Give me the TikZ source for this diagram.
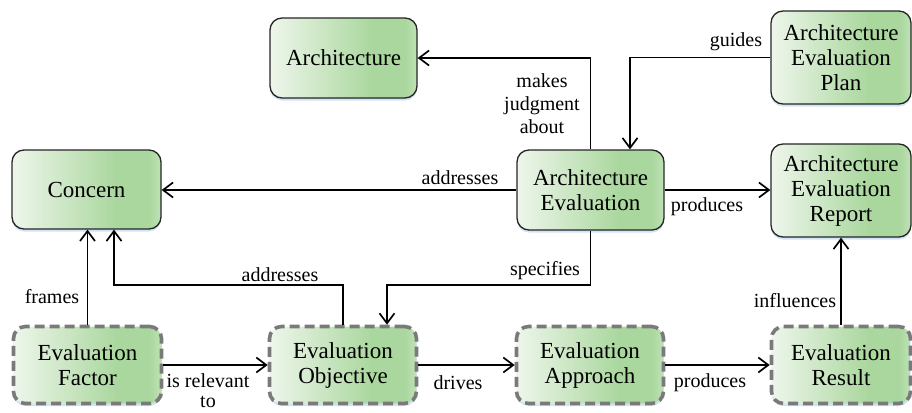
\documentclass[tikz,border=0pt]{standalone}
\usepackage{fontspec}
\setmainfont{Liberation Serif}
\newfontfamily\camfont{Liberation Serif}
\usetikzlibrary{arrows.meta,shadows,calc}
\definecolor{gA}{RGB}{238,246,235}
\definecolor{gB}{RGB}{170,215,158}
\definecolor{gC}{RGB}{192,226,183}
\definecolor{dashgray}{RGB}{122,122,122}
\definecolor{glow}{RGB}{190,215,240}
\pgfdeclarehorizontalshading{boxgreen}{100bp}{color(0bp)=(gA); color(25bp)=(gA); color(60bp)=(gB); color(71bp)=(gB); color(75bp)=(gC); color(100bp)=(gC)}
\tikzset{
  box/.style={rounded corners=12pt, shading=boxgreen, align=center,
    font=\camfont\fontsize{23}{25}\selectfont, inner sep=0pt,
    drop shadow={shadow xshift=0pt, shadow yshift=-2.5pt, fill=glow, opacity=0.7}},
  solidbox/.style={box, draw=black!85, line width=1.3pt},
  dashbox/.style={box, draw=dashgray, line width=3.6pt, dash pattern=on 10pt off 5pt},
  arr/.style={line width=1.7pt, -{Straight Barb[length=10pt,width=15pt,line width=1.7pt]}},
  lbl/.style={font=\camfont\fontsize{20}{23}\selectfont, align=center, inner sep=0pt},
}
\begin{document}
\begin{tikzpicture}[x=1pt,y=-1pt]
\useasboundingbox (0,0) rectangle (912,412);
% nodes
\node[solidbox, minimum width=147pt, minimum height=80pt] (arch) at (343.5,58) {Architecture};
\node[solidbox, minimum width=140pt, minimum height=93pt] (plan) at (841,57.5) {Architecture\\Evaluation\\Plan};
\node[solidbox, minimum width=149pt, minimum height=79pt] (concern) at (86.5,189.5) {Concern};
\node[solidbox, minimum width=147pt, minimum height=80pt] (ae) at (590.5,190) {Architecture\\Evaluation};
\node[solidbox, minimum width=140pt, minimum height=93pt] (report) at (841,190.5) {Architecture\\Evaluation\\Report};
\node[dashbox, minimum width=148pt, minimum height=77pt] (factor) at (87.5,365) {Evaluation\\Factor};
\node[dashbox, minimum width=147pt, minimum height=77pt] (obj) at (343,365) {Evaluation\\Objective};
\node[dashbox, minimum width=147pt, minimum height=77pt] (appr) at (590,365) {Evaluation\\Approach};
\node[dashbox, minimum width=139pt, minimum height=77pt] (result) at (841,365) {Evaluation\\Result};
% connectors
\draw[arr] (ae.north) |- (arch.east);
\draw[arr] (plan.west) -| ([xshift=39.5pt]ae.north);
\draw[arr] (ae.west) -- (concern.east |- ae.west);
\draw[arr] (ae.east) -- (report.west |- ae.east);
\draw[arr] (ae.south) -- (ae.south |- 0,285) -| ([xshift=44pt]obj.north);
\draw[arr] (obj.north) -- (obj.north |- 0,285) -| ([xshift=27.5pt]concern.south);
\draw[arr] (factor.north) -- (factor.north |- concern.south);
\draw[arr] (factor.east) -- (obj.west);
\draw[arr] (obj.east) -- (appr.west);
\draw[arr] (appr.east) -- (result.west);
\draw[arr] (result.north) -- (result.north |- report.south);
% labels
\node[lbl] (l1) at (542,104) {makes\\judgment\\about};
\node[lbl] (l2) at (736,42) {guides};
\node[lbl] (l3) at (460,178) {addresses};
\node[lbl] (l4) at (707,207) {produces};
\node[lbl] (l5) at (545,271) {specifies};
\node[lbl] (l6) at (280,275) {addresses};
\node[lbl] (l7) at (52,297) {frames};
\node[lbl] (l8) at (795,301) {influences};
\node[lbl, font=\camfont\fontsize{20}{20}\selectfont] (l9) at (208,391) {is relevant\\to};
\node[lbl] (l10) at (458,383) {drives};
\node[lbl] (l11) at (710,383) {produces};
\end{tikzpicture}
\end{document}
